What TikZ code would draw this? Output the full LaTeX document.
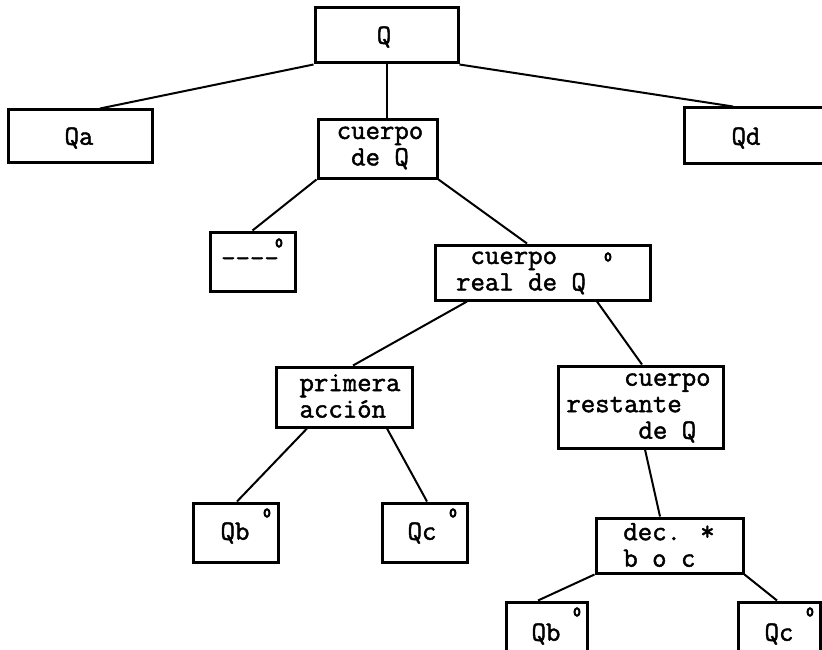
\documentclass[tikz,border=0pt]{standalone}
\usepackage{fontspec}
\newfontfamily\tw{Latin Modern Mono}[BoldFont=Latin Modern Mono,BoldFeatures={FakeBold=1.6}]
\usetikzlibrary{shapes.geometric}
\begin{document}
\begin{tikzpicture}[x=1pt,y=-1pt,
  box/.style={draw,line width=3pt,inner sep=0pt,minimum width=#1},
  lbl/.style={inner sep=0pt,align=left,font=\tw\bfseries\fontsize{28}{26.5}\selectfont},
  ring/.style={draw,ellipse,line width=2pt,inner sep=0pt,minimum width=5pt,minimum height=7.5pt},
  link/.style={line width=2pt}]
\useasboundingbox (0,0) rectangle (822,650);
\clip (0,0) rectangle (822,650);
% boxes
\node[box=143pt,minimum height=55pt] (q)     at (386.5,35.5) {};
\node[box=144pt,minimum height=53pt] (qa)    at (80,136.5) {};
\node[box=119pt,minimum height=58pt] (cq)    at (377.5,149) {};
\node[box=142pt,minimum height=56pt] (qd)    at (755,136) {};
\node[box=85pt,minimum height=59pt]  (dash)  at (252.5,261.5) {};
\node[box=215pt,minimum height=55pt] (crq)   at (542.5,272.5) {};
\node[box=136pt,minimum height=60pt] (pa)    at (344,397) {};
\node[box=165pt,minimum height=82pt] (crest) at (640.5,407) {};
\node[box=85pt,minimum height=59pt]  (qb1)   at (235.5,532.5) {};
\node[box=85pt,minimum height=59pt]  (qc1)   at (424.5,532.5) {};
\node[box=147pt,minimum height=55pt] (dec)   at (669.5,545.5) {};
\node[box=81pt,minimum height=58pt]  (qb2)   at (546.5,631) {};
\node[box=82pt,minimum height=58pt]  (qc2)   at (779,631) {};
% texts
\node[lbl] (q-t)     at (384,37)    {Q};
\node[lbl] (qa-t)    at (79,138)    {Qa};
\node[lbl] (cq-t)    at (380,148)   {cuerpo\\\phantom{x}de Q};
\node[lbl] (qd-t)    at (746,138)   {Qd};
\node[lbl] (dash-t)  at (250,262)   {{-}{-}{-}{-}};
\node[lbl] (crq-t)   at (521,273)   {\phantom{x}cuerpo\\real de Q};
\node[lbl] (pa-t)    at (350,396)   {primera\\acción};
\node[lbl] (crest-t) at (638.5,408) {\phantom{xxxx}cuerpo\\restante\\\phantom{xxxxx}de Q};
\node[lbl] (qb1-t)   at (235,533)   {Qb};
\node[lbl] (qc1-t)   at (422,533)   {Qc};
\node[lbl] (dec-t)   at (669,545)   {dec. *\\b o c};
\node[lbl] (qb2-t)   at (546,634)   {Qb};
\node[lbl] (qc2-t)   at (779,634)   {Qc};
% small rings in box corners
\node[ring] (dash-r) at (279,243) {};
\node[ring] (crq-r)  at (608,257) {};
\node[ring] (qb1-r)  at (267,513) {};
\node[ring] (qc1-r)  at (453,513) {};
\node[ring] (qb2-r)  at (577,612) {};
\node[ring] (qc2-r)  at (810,612) {};
% connectors
\draw[link] (q.south west) -- ([xshift=20pt]qa.north);
\draw[link] (q.south) -- (q.south |- cq.north);
\draw[link] (q.south east) -- ([xshift=-22pt]qd.north);
\draw[link] (cq.south west) -- (dash.north);
\draw[link] (cq.south east) -- ([xshift=-15.5pt]crq.north);
\draw[link] ([xshift=-75.5pt]crq.south) -- ([xshift=9pt]pa.north);
\draw[link] ([xshift=54.5pt]crq.south) -- ([xshift=1.5pt]crest.north);
\draw[link] ([xshift=-37pt]pa.south) -- ([xshift=1.5pt]qb1.north);
\draw[link] ([xshift=43pt]pa.south) -- ([xshift=2.5pt]qc1.north);
\draw[link] ([xshift=4.5pt]crest.south) -- ([xshift=-9.5pt]dec.north);
\draw[link] (dec.south west) -- ([xshift=-8.5pt]qb2.north);
\draw[link] (dec.south east) -- ([xshift=-2pt]qc2.north);
\end{tikzpicture}
\end{document}
